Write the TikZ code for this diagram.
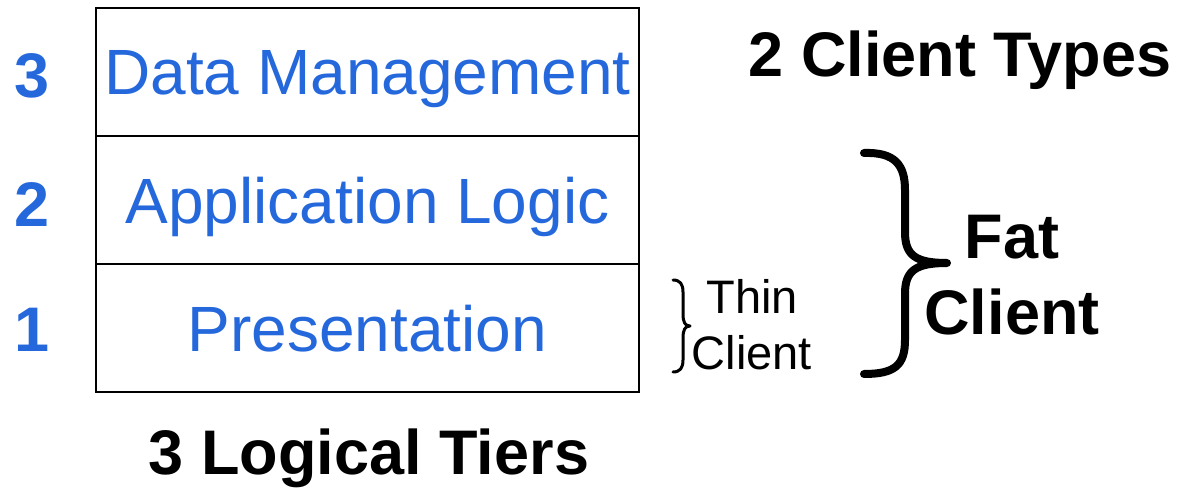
\documentclass[tikz,border=0pt]{standalone}
\usepackage{fontspec}
\setmainfont{Liberation Sans}
\definecolor{tierblue}{RGB}{36,104,220}
\begin{document}
\begin{tikzpicture}[x=1pt,y=-1pt,
  tier/.style={draw,line width=2.2pt,minimum width=543pt,minimum height=128pt,
    inner sep=0pt,text height=46pt,text depth=0pt,text=tierblue,
    font=\fontsize{64}{70}\selectfont},
  tiernum/.style={text=tierblue,font=\fontsize{63}{70}\selectfont\bfseries,
    inner sep=0pt,text height=46pt,text depth=0pt},
  title/.style={font=\fontsize{63}{70}\selectfont\bfseries,inner sep=0pt},
  bracestroke/.style={line cap=round,line join=round}]
\useasboundingbox (0,0) rectangle (1187,492);
% the three logical tiers
\node[tier] (data) at (367.5,72) {Data Management};
\node[tier] (app) at (367.5,200) {Application Logic};
\node[tier] (pres) at (367.5,328) {Presentation};
% tier numbers
\node[tiernum] (n3) at (32,75) {3};
\node[tiernum] (n2) at (32,203) {2};
\node[tiernum] (n1) at (32,328) {1};
% headings
\node[title] (tiers) at (369,458) {3 Logical Tiers};
\node[title] (types) at (960,60) {2 Client Types};
% fat client brace and label
\draw[bracestroke,line width=8pt]
  (864,153) .. controls (895,152) and (905,165) .. (905,190) -- (905,232)
  .. controls (905,255) and (915,263) .. (947,263)
  .. controls (915,263) and (905,271) .. (905,294) -- (905,340)
  .. controls (905,365) and (895,374) .. (864,374);
\node[font=\fontsize{63}{76}\selectfont\bfseries,align=center,inner sep=0pt] (fat) at (1012,275) {Fat\\Client};
% thin client brace and label
\draw[bracestroke,line width=3pt]
  (673,280) .. controls (680,280) and (683,284) .. (683,292) -- (683,314)
  .. controls (683,322) and (685,326) .. (690,326)
  .. controls (685,326) and (683,330) .. (683,338) -- (683,360)
  .. controls (683,368) and (680,372) .. (673,372);
\node[font=\fontsize{47}{56}\selectfont,align=center,inner sep=0pt] (thin) at (752,325) {Thin\\Client};
\end{tikzpicture}
\end{document}
